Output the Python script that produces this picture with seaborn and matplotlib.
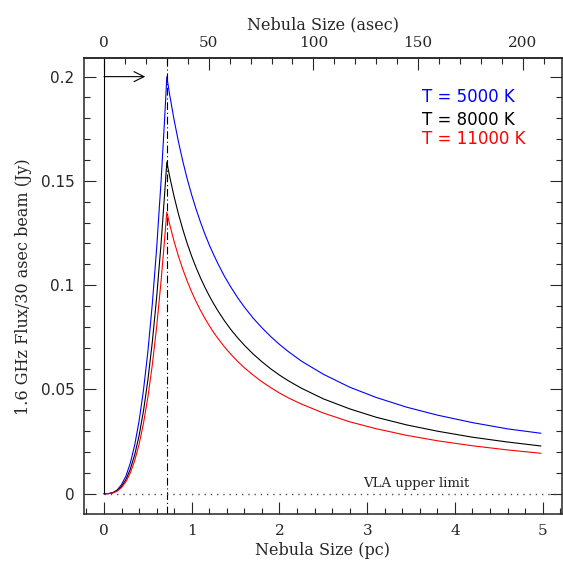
import pandas as pd
import seaborn as sns
import matplotlib
matplotlib.use("Agg")
import matplotlib.pyplot as plt
from matplotlib.ticker import MultipleLocator, FixedLocator

# tamaño de la nebulosa (pc)
size_pc = [0, 0.05, 0.1, 0.15, 0.2, 0.25, 0.3, 0.35, 0.4, 0.45, 0.5, 0.55, 0.6,
           0.65, 0.69, 0.716,
           0.75, 0.8, 0.85, 0.9, 0.95, 1.0, 1.05, 1.1, 1.15, 1.2, 1.25, 1.3,
           1.375, 1.45, 1.525, 1.6, 1.7, 1.8, 1.9, 2.0, 2.1,
           2.25, 2.5, 2.8, 3.1, 3.45, 3.8, 4.2, 4.6, 4.98]

# flujo 1.6 GHz por haz de 30" (Jy)
flux_5000 = [0, 0.00007, 0.00055, 0.0018, 0.0044, 0.0085, 0.0147, 0.0234, 0.0349,
             0.0497, 0.0681, 0.0907, 0.1177, 0.1496, 0.179, 0.200,
             0.1909, 0.179, 0.1685, 0.1591, 0.1507, 0.1432, 0.1364, 0.1302,
             0.1245, 0.1193, 0.1146, 0.1102, 0.1041, 0.0988, 0.0939, 0.0895,
             0.0842, 0.0796, 0.0754, 0.0716, 0.0682,
             0.0636, 0.0573, 0.0511, 0.0462, 0.0415, 0.0377, 0.0341, 0.0311,
             0.0290]
flux_8000 = [0, 0.00005, 0.00044, 0.0015, 0.0035, 0.0068, 0.0118, 0.0187, 0.0279,
             0.0397, 0.0545, 0.0725, 0.0942, 0.1197, 0.1432, 0.159,
             0.1518, 0.1423, 0.1339, 0.1265, 0.1198, 0.1138, 0.1084, 0.1035,
             0.0990, 0.0949, 0.0911, 0.0876, 0.0828, 0.0785, 0.0747, 0.0712,
             0.0670, 0.0633, 0.0599, 0.0569, 0.0542,
             0.0506, 0.0455, 0.0407, 0.0367, 0.0330, 0.0300, 0.0271, 0.0248,
             0.0229]
flux_11000 = [0, 0.00005, 0.00037, 0.00125, 0.0030, 0.0058, 0.0100, 0.0159, 0.0237,
              0.0338, 0.0463, 0.0616, 0.0800, 0.1018, 0.1217, 0.135,
              0.1289, 0.1208, 0.1137, 0.1074, 0.1018, 0.0967, 0.0921, 0.0879,
              0.0841, 0.0806, 0.0773, 0.0744, 0.0703, 0.0667, 0.0634, 0.0604,
              0.0569, 0.0537, 0.0509, 0.0483, 0.0460,
              0.0430, 0.0387, 0.0345, 0.0312, 0.0280, 0.0254, 0.0230, 0.0210,
              0.0194]

temps = ["T = 5000 K", "T = 8000 K", "T = 11000 K"]
colors = ["blue", "black", "red"]
beam_pc = 0.716        # 30 asec en pc
asec_per_pc = 41.9
upper_limit = 0.0
asec_ticks = [0, 50, 100, 150, 200]

sns.set_style("ticks")
plt.rcParams["font.family"] = ["DejaVu Serif"]

df = pd.concat([
    pd.DataFrame({"size": size_pc, "flux": f, "T": t})
    for f, t in zip([flux_5000, flux_8000, flux_11000], temps)
])

fig = plt.figure(figsize=(5.63, 5.64), dpi=100)
ax = fig.add_axes([0.1492, 0.0887, 0.849, 0.8076])

sns.lineplot(data=df, x="size", y="flux", hue="T", palette=colors,
             linewidth=0.8, legend=False, sort=False, estimator=None, ax=ax)

ax.set_xlim(-0.228, 5.22)
ax.set_ylim(-0.0097, 0.2087)

# líneas de referencia
ax.vlines(0, 0, 0.2087, color="black", lw=0.8)
ax.axvline(beam_pc, color="black", lw=0.8, linestyle=(0, (7, 2.5, 1, 2.5)))
ax.hlines(upper_limit, 0, 5.22, color="0.3", lw=1.0, linestyle=(0, (1, 3.5)))
ax.annotate("", xy=(0.47, 0.2), xytext=(0, 0.2),
            arrowprops=dict(arrowstyle="->", lw=0.8, color="black",
                            mutation_scale=18, shrinkA=0, shrinkB=0))
ax.text(2.95, 0.0047, "VLA upper limit", fontsize=9.5, va="center")

for t, c, y in zip(temps, colors, [0.190, 0.1792, 0.1699]):
    ax.text(3.62, y, t, color=c, fontsize=12, va="center",
            family=["DejaVu Sans"])

ax.set_xlabel("Nebula Size (pc)", fontsize=11.5, labelpad=3)
ax.set_ylabel("1.6 GHz Flux/30 asec beam (Jy)", fontsize=11.5, labelpad=6)

ax.xaxis.set_major_locator(MultipleLocator(1))
ax.xaxis.set_minor_locator(MultipleLocator(0.2))
ax.yaxis.set_minor_locator(MultipleLocator(0.01))
ax.set_yticks([0, 0.05, 0.1, 0.15, 0.2])
ax.set_yticklabels(["0", "0.05", "0.1", "0.15", "0.2"], family=["DejaVu Sans"])
ax.tick_params(which="both", direction="in", top=False, right=True,
               labelsize=11, width=0.8)
ax.tick_params(axis="x", which="major", pad=7)
ax.tick_params(axis="y", which="major", pad=7)
ax.tick_params(which="major", length=8.5)
ax.tick_params(which="minor", length=4)

# eje superior en segundos de arco
top = ax.secondary_xaxis("top", functions=(lambda x: x * asec_per_pc,
                                           lambda x: x / asec_per_pc))
top.xaxis.set_major_locator(FixedLocator(asec_ticks))
top.xaxis.set_minor_locator(FixedLocator(list(range(0, 220, 10))))
top.tick_params(which="both", direction="in", labelsize=11, width=0.8, pad=6)
top.tick_params(which="major", length=8.5)
top.tick_params(which="minor", length=4)
top.set_xlabel("Nebula Size (asec)", fontsize=11.5, labelpad=5)

for s in ax.spines.values():
    s.set_linewidth(1.1)
top.spines["top"].set_linewidth(1.1)

fig.savefig("out.png", dpi=100)
